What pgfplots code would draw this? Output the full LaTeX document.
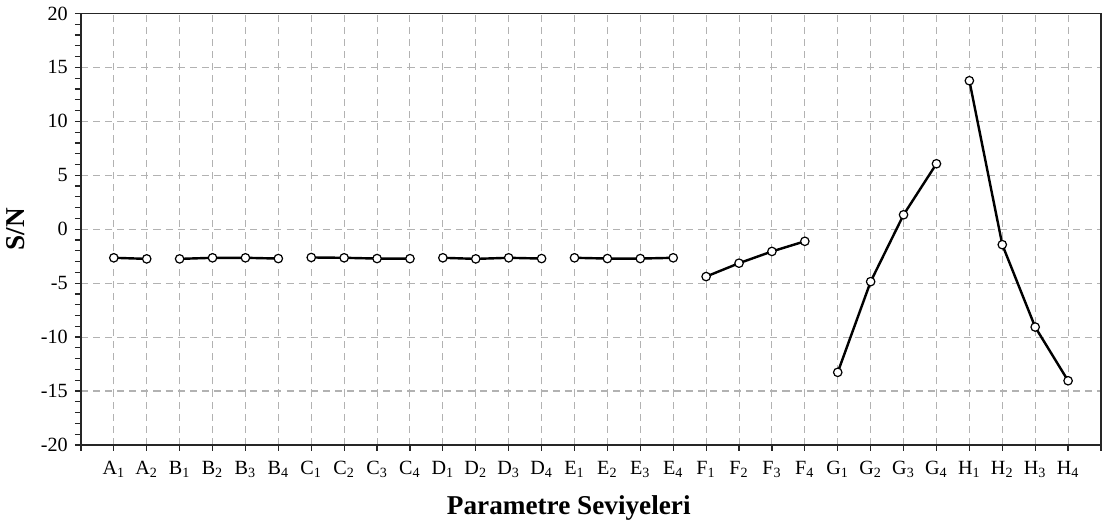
\documentclass[border=0pt]{standalone}
\usepackage{fontspec}
\setmainfont{Liberation Serif}
\usepackage{pgfplots}
\pgfplotsset{compat=1.18}

\newcommand{\lv}[2]{#1\textsubscript{#2}}

\pgfplotsset{
    sn/.style={black, solid, line width=1.2pt, mark=*, mark size=2.1pt,
        mark options={solid, fill=white, draw=black, line width=0.6pt}},
}

\begin{document}
\begin{tikzpicture}
\begin{axis}[
    width=506pt, height=214pt,
    scale only axis,
    xmin=0, xmax=31,
    ymin=-20, ymax=20,
    xtick={0,...,31},
    xticklabels={,\lv{A}{1},\lv{A}{2},\lv{B}{1},\lv{B}{2},\lv{B}{3},\lv{B}{4},
        \lv{C}{1},\lv{C}{2},\lv{C}{3},\lv{C}{4},\lv{D}{1},\lv{D}{2},\lv{D}{3},\lv{D}{4},
        \lv{E}{1},\lv{E}{2},\lv{E}{3},\lv{E}{4},\lv{F}{1},\lv{F}{2},\lv{F}{3},\lv{F}{4},
        \lv{G}{1},\lv{G}{2},\lv{G}{3},\lv{G}{4},\lv{H}{1},\lv{H}{2},\lv{H}{3},\lv{H}{4},},
    ytick={-20,-15,...,20},
    minor y tick num=4,
    xtick pos=bottom,
    ytick pos=left,
    tick align=outside,
    major tick length=3pt,
    minor tick length=3pt,
    grid=major,
    major grid style={gray!60, line width=0.5pt, dash pattern=on 3.5pt off 2.5pt},
    axis line style={line width=0.9pt, black!85},
    tick style={black!85, line width=0.6pt},
    tick label style={font=\fontsize{10}{11}\selectfont},
    xticklabel style={inner sep=0pt, yshift=-5pt},
    /pgf/number format/assume math mode=true,
    xlabel={\textbf{Parametre Seviyeleri}},
    ylabel={\textbf{S/N}},
    label style={font=\fontsize{13.5}{15}\selectfont},
    xlabel style={xshift=-11pt, yshift=-5pt},
    ylabel style={yshift=1pt},
]

% A
\addplot[sn] coordinates {(1,-2.65) (2,-2.75)};
% B
\addplot[sn] coordinates {(3,-2.75) (4,-2.65) (5,-2.65) (6,-2.72)};
% C
\addplot[sn] coordinates {(7,-2.62) (8,-2.65) (9,-2.72) (10,-2.73)};
% D
\addplot[sn] coordinates {(11,-2.65) (12,-2.75) (13,-2.65) (14,-2.72)};
% E
\addplot[sn] coordinates {(15,-2.65) (16,-2.72) (17,-2.72) (18,-2.65)};
% F
\addplot[sn] coordinates {(19,-4.39) (20,-3.15) (21,-2.06) (22,-1.12)};
% G
\addplot[sn] coordinates {(23,-13.27) (24,-4.86) (25,1.34) (26,6.07)};
% H
\addplot[sn] coordinates {(27,13.77) (28,-1.43) (29,-9.07) (30,-14.05)};

% right margin as in the reference
\path (rel axis cs:1,0) ++(2pt,0) coordinate (rm);
\end{axis}
\end{tikzpicture}
\end{document}
